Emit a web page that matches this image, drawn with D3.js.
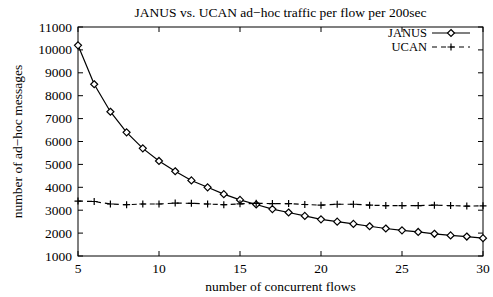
<!DOCTYPE html>
<html><head><meta charset="utf-8">
<script src="https://cdn.jsdelivr.net/npm/d3@7"></script>
<style>body{margin:0;background:#fff}svg{display:block}text{font-family:"Liberation Serif","Times New Roman",serif;fill:#000}</style>
</head><body>
<svg id="c" width="493" height="297"></svg>
<script>
const flows = [5,6,7,8,9,10,11,12,13,14,15,16,17,18,19,20,21,22,23,24,25,26,27,28,29,30];
const janus = [10200,8500,7300,6400,5700,5150,4700,4300,4000,3700,3450,3250,3050,2900,2750,2600,2500,2400,2300,2200,2120,2050,1970,1900,1850,1780];
const ucan  = [3400,3380,3270,3240,3270,3270,3310,3300,3270,3240,3280,3300,3290,3290,3250,3220,3260,3260,3220,3200,3200,3200,3220,3200,3180,3190];
const xTicks = [5,10,15,20,25,30];
const yTicks = [1000,2000,3000,4000,5000,6000,7000,8000,9000,10000,11000];
const seriesNames = ["JANUS","UCAN"];
const title = "JANUS vs. UCAN ad\u2212hoc traffic per flow per 200sec";

const svg = d3.select("#c");
const L=78,R=483,T=27,B=256;
const x = d3.scaleLinear().domain([5,30]).range([L,R]);
const y = d3.scaleLinear().domain([1000,11000]).range([B,T]);
const fs = 13.5;

const tl = 5;
xTicks.forEach(v=>{
  svg.append("line").attr("x1",x(v)).attr("x2",x(v)).attr("y1",B).attr("y2",B-tl).attr("stroke","#000");
  svg.append("line").attr("x1",x(v)).attr("x2",x(v)).attr("y1",T).attr("y2",T+tl).attr("stroke","#000");
  svg.append("text").attr("x",x(v)).attr("y",B+17).attr("text-anchor","middle").attr("font-size",fs).text(v);
});
yTicks.forEach(v=>{
  svg.append("line").attr("x1",L).attr("x2",L+tl).attr("y1",y(v)).attr("y2",y(v)).attr("stroke","#000");
  svg.append("line").attr("x1",R).attr("x2",R-tl).attr("y1",y(v)).attr("y2",y(v)).attr("stroke","#000");
  svg.append("text").attr("x",L-6).attr("y",y(v)+4.5).attr("text-anchor","end").attr("font-size",fs).text(v);
});
svg.append("rect").attr("x",L).attr("y",T).attr("width",R-L).attr("height",B-T).attr("fill","none").attr("stroke","#000").attr("stroke-width",1);

svg.append("text").attr("x",(L+R)/2).attr("y",17).attr("text-anchor","middle").attr("font-size",fs).text(title);
svg.append("text").attr("x",(L+R)/2).attr("y",B+35).attr("text-anchor","middle").attr("font-size",fs).text("number of concurrent flows");
svg.append("text").attr("transform",`translate(22,${(T+B)/2}) rotate(-90)`).attr("text-anchor","middle").attr("font-size",fs).text("number of ad\u2212hoc messages");

const line = d3.line().x((d,i)=>x(flows[i])).y(d=>y(d));
svg.append("path").attr("d",line(janus)).attr("fill","none").attr("stroke","#000").attr("stroke-width",1.2);
svg.append("path").attr("d",line(ucan)).attr("fill","none").attr("stroke","#000").attr("stroke-width",1.2).attr("stroke-dasharray","5,4");

const diamond = (cx,cy)=>`M${cx},${cy-3.5}L${cx+3.5},${cy}L${cx},${cy+3.5}L${cx-3.5},${cy}Z`;
const plus = (cx,cy)=>`M${cx-3.5},${cy}H${cx+3.5}M${cx},${cy-3.5}V${cy+3.5}`;
svg.append("g").selectAll("path").data(janus).join("path")
  .attr("d",(d,i)=>diamond(x(flows[i]),y(d))).attr("fill","#fff").attr("stroke","#000").attr("stroke-width",1.2);
svg.append("g").selectAll("path").data(ucan).join("path")
  .attr("d",(d,i)=>plus(x(flows[i]),y(d))).attr("fill","none").attr("stroke","#000").attr("stroke-width",1.2);

const lfs = 12.5;
const lx1=432,lx2=470,ly=[33,47];
svg.append("text").attr("x",427).attr("y",ly[0]+4.3).attr("text-anchor","end").attr("font-size",lfs).text(seriesNames[0]);
svg.append("line").attr("x1",lx1).attr("x2",lx2).attr("y1",ly[0]).attr("y2",ly[0]).attr("stroke","#000").attr("stroke-width",1.2);
svg.append("path").attr("d",diamond((lx1+lx2)/2,ly[0])).attr("fill","#fff").attr("stroke","#000").attr("stroke-width",1.2);
svg.append("text").attr("x",427).attr("y",ly[1]+4.3).attr("text-anchor","end").attr("font-size",lfs).text(seriesNames[1]);
svg.append("line").attr("x1",lx1).attr("x2",lx2).attr("y1",ly[1]).attr("y2",ly[1]).attr("stroke","#000").attr("stroke-width",1.2).attr("stroke-dasharray","5,4");
svg.append("path").attr("d",plus((lx1+lx2)/2,ly[1])).attr("fill","none").attr("stroke","#000").attr("stroke-width",1.2);
</script>
</body></html>
